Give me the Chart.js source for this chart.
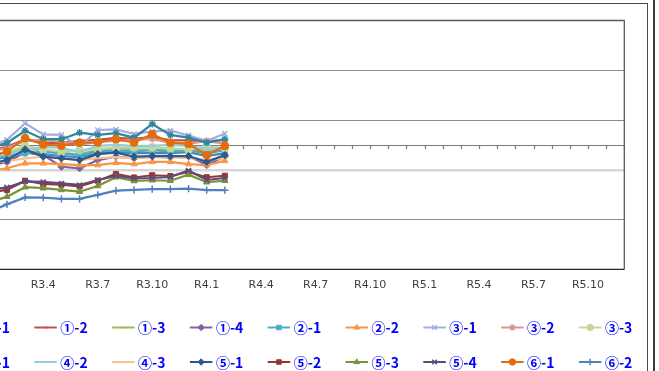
<!DOCTYPE html>
<html>
<head>
<meta charset="utf-8">
<script src="https://cdn.jsdelivr.net/npm/chart.js@4/dist/chart.umd.min.js"></script>
<style>
  html, body { margin: 0; padding: 0; background: #fff; overflow: hidden; }
  body { width: 659px; height: 371px; position: relative; }
  #wrap { position: absolute; left: -40px; top: 0; width: 699px; height: 371px; }
  #frame { position: absolute; left: -10px; top: 3px; width: 658px; height: 400px; border: 1px solid #4a4a4a; box-sizing: border-box; }
  #edge { position: absolute; left: 653px; top: 0; width: 2px; height: 371px; background: #3a3a3a; }
</style>
</head>
<body>
<div id="frame"></div>
<div id="edge"></div>
<div id="wrap"><canvas id="c" width="699" height="371"></canvas></div>
<script>
// Months from R3.1 to R5.12 (Reiwa era), monthly
const categories = [
  'R3.1','R3.2','R3.3','R3.4','R3.5','R3.6','R3.7','R3.8','R3.9','R3.10','R3.11','R3.12',
  'R4.1','R4.2','R4.3','R4.4','R4.5','R4.6','R4.7','R4.8','R4.9','R4.10','R4.11','R4.12',
  'R5.1','R5.2','R5.3','R5.4','R5.5','R5.6','R5.7','R5.8','R5.9','R5.10','R5.11','R5.12'
];
// Quarterly labels shown on the axis
const tickLabels = ['R3.4','R3.7','R3.10','R4.1','R4.4','R4.7','R4.10','R5.1','R5.4','R5.7','R5.10'];

const seriesNames = ['①-1','①-2','①-3','①-4','②-1','②-2','③-1','③-2','③-3',
                     '④-1','④-2','④-3','⑤-1','⑤-2','⑤-3','⑤-4','⑥-1','⑥-2'];

// Index values (R3.1 – R4.2)
const s1_1 = [93.9, 95.1, 97.5, 96.3, 95.5, 95.1, 96.7, 97.1, 96.7, 96.7, 96.7, 97.1, 95.5, 96.7];
const s1_2 = [97.9, 99.2, 102.2, 100.8, 100.8, 101.6, 102.0, 102.8, 102.4, 103.2, 101.8, 101.8, 101.4, 102.0];
const s1_3 = [95.5, 96.7, 98.4, 97.9, 96.7, 96.3, 97.9, 98.8, 98.2, 97.9, 97.9, 97.7, 97.9, 97.5];
const s1_4 = [91.5, 93.1, 96.9, 95.9, 91.2, 90.6, 93.9, 95.3, 94.6, 95.3, 95.0, 95.5, 91.9, 95.3];
const s2_1 = [94.7, 95.5, 96.6, 97.3, 96.6, 95.9, 97.3, 97.9, 97.3, 97.9, 97.3, 97.7, 96.6, 97.9];
const s2_2 = [89.5, 90.6, 92.6, 92.6, 92.3, 91.9, 91.9, 92.8, 92.3, 93.2, 93.2, 92.3, 91.9, 93.6];
const s3_1 = [99.6, 102.0, 108.7, 104.2, 104.0, 99.2, 106.0, 106.2, 104.4, 105.4, 105.8, 103.8, 101.6, 104.6];
const s3_2 = [97.1, 98.8, 101.6, 102.0, 101.2, 100.0, 101.2, 101.6, 102.0, 102.4, 100.8, 100.4, 101.6, 100.4];
const s3_3 = [95.9, 97.1, 99.6, 98.2, 97.3, 97.9, 98.4, 98.9, 99.0, 99.0, 98.6, 98.2, 99.2, 98.8];
const s4_1 = [98.8, 100.8, 105.7, 102.3, 102.3, 104.9, 104.0, 104.7, 102.9, 108.4, 104.0, 102.9, 100.9, 102.3];
const s4_2 = [95.1, 96.3, 97.9, 99.2, 98.8, 97.1, 99.6, 100.0, 99.6, 99.6, 100.0, 99.6, 98.4, 98.8];
const s4_3 = [92.7, 93.5, 94.6, 95.3, 94.7, 93.9, 94.7, 95.1, 94.7, 95.1, 95.1, 94.7, 93.9, 94.7];
const s5_1 = [92.3, 93.9, 98.2, 95.3, 94.6, 93.9, 96.3, 96.9, 95.3, 95.5, 95.5, 95.5, 93.2, 95.9];
const s5_2 = [80.9, 81.9, 85.6, 84.3, 84.0, 83.3, 85.6, 88.3, 86.9, 87.8, 87.5, 89.1, 87.0, 87.6];
const s5_3 = [76.8, 79.2, 83.0, 82.6, 81.9, 81.2, 83.5, 87.0, 85.5, 85.8, 85.6, 88.0, 85.0, 85.6];
const s5_4 = [81.9, 82.9, 85.3, 85.1, 84.5, 83.9, 85.9, 87.5, 86.5, 86.7, 87.1, 89.7, 85.9, 86.7];
const s6_1 = [95.1, 97.3, 102.7, 100.2, 99.7, 100.9, 101.0, 102.3, 101.0, 104.3, 100.9, 100.4, 95.9, 99.6];
const s6_2 = [73.0, 76.1, 78.9, 78.8, 78.3, 78.3, 79.9, 81.6, 81.9, 82.2, 82.2, 82.4, 81.8, 81.8];

const seriesValues = [s1_1, s1_2, s1_3, s1_4, s2_1, s2_2, s3_1, s3_2, s3_3,
                      s4_1, s4_2, s4_3, s5_1, s5_2, s5_3, s5_4, s6_1, s6_2];

const seriesColors = ['#4F81BD','#C0504D','#9BBB59','#8064A2','#4BACC6','#F79646',
                      '#A3AEDC','#D99694','#C3D69B','#31859C','#93CDDD','#FAC090',
                      '#2C5A8C','#953735','#77933C','#604A7B','#E46C0A','#4F81BD'];
const seriesMarkers = ['line','line','line','rectRot','rect','triangle',
                       'crossRot','star','circle','star','line','line',
                       'rectRot','rect','triangle','crossRot','circle','cross'];

const SHIFT = 40; // canvas starts this far left of the page

const datasets = seriesNames.map((name, i) => ({
  label: name,
  data: seriesValues[i],
  borderColor: seriesColors[i],
  backgroundColor: seriesColors[i],
  borderWidth: 2.2,
  pointStyle: seriesMarkers[i],
  pointRadius: seriesMarkers[i] === 'line' ? 3 : (seriesMarkers[i] === 'circle' ? 3.9 : 3.6),
  pointBorderWidth: (seriesMarkers[i] === 'crossRot' || seriesMarkers[i] === 'star' || seriesMarkers[i] === 'cross' || seriesMarkers[i] === 'line') ? 1.5 : 1,
  tension: 0,
  order: seriesNames.length - i
}));

// Axis line at 100 with tick marks, and the plot-area border
const axisDecor = {
  id: 'axisDecor',
  beforeDatasetsDraw(chart) {
    const { ctx, chartArea: a, scales: { x, y } } = chart;
    const y0 = Math.round(y.getPixelForValue(100)) + 0.5;
    ctx.save();
    ctx.strokeStyle = '#7a7a7a';
    ctx.lineWidth = 1.2;
    ctx.beginPath();
    ctx.moveTo(a.left, y0); ctx.lineTo(a.right, y0);
    for (let i = 0; i < categories.length; i++) {
      const px = Math.round(x.getPixelForValue(i)) + 0.5;
      ctx.moveTo(px, y0); ctx.lineTo(px, y0 + 3.5);
    }
    ctx.stroke();
    ctx.restore();
  },
  afterDraw(chart) {
    const { ctx, chartArea: a } = chart;
    ctx.save();
    ctx.lineWidth = 1.3;
    ctx.strokeStyle = '#5a5a5a';
    ctx.beginPath();
    ctx.moveTo(a.left, a.top); ctx.lineTo(a.right, a.top); ctx.lineTo(a.right, a.bottom);
    ctx.stroke();
    ctx.strokeStyle = '#262626';
    ctx.beginPath();
    ctx.moveTo(a.left, a.bottom); ctx.lineTo(a.right, a.bottom);
    ctx.stroke();
    ctx.restore();
  }
};

// Two-row key of line + marker samples with circled-number names
const seriesKey = {
  id: 'seriesKey',
  afterDraw(chart) {
    const ctx = chart.ctx;
    const perRow = 9, colW = 77.8, firstCol = -43.5 + SHIFT, rowsY = [327.5, 362];
    ctx.save();
    chart.data.datasets.forEach((ds, i) => {
      const col = i % perRow, row = Math.floor(i / perRow);
      const x0 = firstCol + col * colW, yy = rowsY[row];
      ctx.strokeStyle = ds.borderColor;
      ctx.fillStyle = ds.backgroundColor;
      ctx.lineWidth = 2;
      ctx.beginPath();
      ctx.moveTo(x0, yy); ctx.lineTo(x0 + 22.5, yy);
      ctx.stroke();
      ctx.lineWidth = ds.pointBorderWidth;
      Chart.helpers.drawPoint(ctx, {
        pointStyle: ds.pointStyle,
        radius: ds.pointStyle === 'line' ? 2.5 : 3.2,
        rotation: 0,
        borderWidth: ds.pointBorderWidth
      }, x0 + 11.25, yy);
      ctx.fillStyle = '#0000FF';
      ctx.font = 'bold 14px "Noto Sans CJK JP", sans-serif';
      ctx.textBaseline = 'middle';
      ctx.textAlign = 'left';
      ctx.fillText(ds.label, x0 + 26, yy + 0.5);
    });
    ctx.restore();
  }
};

new Chart(document.getElementById('c'), {
  type: 'line',
  data: { labels: categories, datasets },
  options: {
    responsive: false,
    animation: false,
    events: [],
    layout: { padding: { top: 20.5, right: 34.7, bottom: 0, left: 0 } },
    plugins: { legend: { display: false }, tooltip: { enabled: false } },
    scales: {
      x: {
        type: 'category',
        offset: false,
        grid: { display: false, drawTicks: false },
        border: { display: false },
        ticks: {
          autoSkip: false,
          maxRotation: 0,
          minRotation: 0,
          padding: 9,
          color: '#404040',
          font: { family: '"DejaVu Sans", sans-serif', size: 11 },
          callback: (v, i) => tickLabels.includes(categories[i]) ? categories[i] : ''
        },
        afterFit: s => { s.height = 371 - 269.3; }
      },
      y: {
        min: 50,
        max: 150,
        ticks: { display: false, stepSize: 20 },
        border: { display: false },
        grid: {
          drawTicks: false,
          color: c => Math.abs(c.tick.value - 90) < 1e-6 ? '#d6d6d6' : '#8c8c8c',
          lineWidth: c => Math.abs(c.tick.value - 90) < 1e-6 ? 2.5 : 1
        },
        afterFit: s => { s.width = SHIFT - 11.2; }
      }
    }
  },
  plugins: [axisDecor, seriesKey]
});
</script>
</body>
</html>
